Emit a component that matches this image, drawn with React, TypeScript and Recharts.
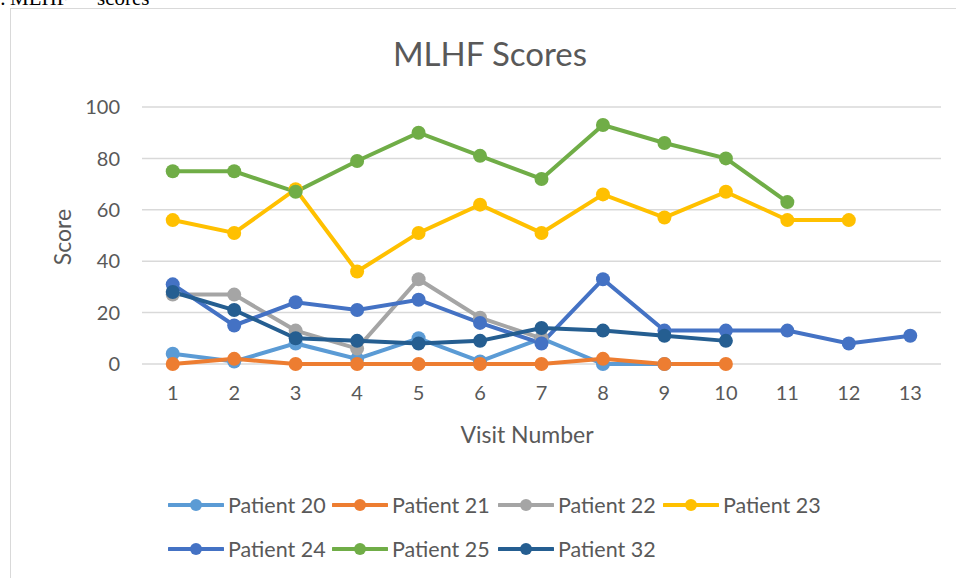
import { CartesianGrid, Line, LineChart, XAxis, YAxis } from "recharts";

const visitTicks = [1, 2, 3, 4, 5, 6, 7, 8, 9, 10, 11, 12, 13];
const scoreTicks = [0, 20, 40, 60, 80, 100];

const patient20 = [4, 1, 8, 2, 10, 1, 10, 0, 0];
const patient21 = [0, 2, 0, 0, 0, 0, 0, 2, 0, 0];
const patient22 = [27, 27, 13, 6, 33, 18, 10];
const patient23 = [56, 51, 68, 36, 51, 62, 51, 66, 57, 67, 56, 56];
const patient24 = [31, 15, 24, 21, 25, 16, 8, 33, 13, 13, 13, 8, 11];
const patient25 = [75, 75, 67, 79, 90, 81, 72, 93, 86, 80, 63];
const patient32 = [28, 21, 10, 9, 8, 9, 14, 13, 11, 9];

const SERIES = [
  { name: "Patient 20", scores: patient20, color: "#5b9bd5" },
  { name: "Patient 21", scores: patient21, color: "#ed7d31" },
  { name: "Patient 22", scores: patient22, color: "#a5a5a5" },
  { name: "Patient 23", scores: patient23, color: "#ffc000" },
  { name: "Patient 24", scores: patient24, color: "#4472c4" },
  { name: "Patient 25", scores: patient25, color: "#70ad47" },
  { name: "Patient 32", scores: patient32, color: "#255e91" },
];

const TEXT = "#595959";
const FONT = "Lato, 'Open Sans', sans-serif";

// legend rows: x of each symbol start, y of row centre
const LEGEND_POS = [
  [168, 505],
  [332, 505],
  [498, 505],
  [663, 505],
  [168, 549],
  [332, 549],
  [498, 549],
];

function LegendItem({ name, color, x, y }: { name: string; color: string; x: number; y: number }) {
  return (
    <div style={{ position: "absolute", left: x, top: y - 13, height: 26, display: "flex", alignItems: "center" }}>
      <svg width={56} height={14} style={{ display: "block" }}>
        <line x1={1} y1={7} x2={55} y2={7} stroke={color} strokeWidth={4} strokeLinecap="round" />
        <circle cx={28} cy={7} r={6} fill={color} />
      </svg>
      <span style={{ marginLeft: 4, fontSize: 21.5, color: TEXT, fontFamily: FONT, whiteSpace: "nowrap" }}>{name}</span>
    </div>
  );
}

export default function App() {
  return (
    <div style={{ position: "absolute", left: 0, top: 0, width: 956, height: 578, overflow: "hidden", background: "#fff" }}>
      <div
        style={{
          position: "absolute",
          left: 0,
          top: -12,
          fontFamily: "'Liberation Serif', 'Times New Roman', serif",
          fontSize: 21,
          lineHeight: "21px",
          color: "#000",
          whiteSpace: "nowrap",
        }}
      >
        <span>:</span>
        <span style={{ position: "absolute", left: 10 }}>MLHF</span>
        <span style={{ position: "absolute", left: 97 }}>scores</span>
      </div>
      <div
        style={{
          position: "absolute",
          left: 10,
          top: 8,
          width: 980,
          height: 600,
          border: "1.5px solid #d9d9d9",
          boxSizing: "border-box",
        }}
      />
      <div
        style={{
          position: "absolute",
          left: 490,
          top: 53,
          transform: "translate(-50%, -50%)",
          fontFamily: FONT,
          fontSize: 33,
          color: TEXT,
          whiteSpace: "nowrap",
        }}
      >
        MLHF Scores
      </div>
      <div
        style={{
          position: "absolute",
          left: 62,
          top: 237,
          transform: "translate(-50%, -50%) rotate(-90deg)",
          fontFamily: FONT,
          fontSize: 23,
          color: TEXT,
          whiteSpace: "nowrap",
        }}
      >
        Score
      </div>
      <div
        style={{
          position: "absolute",
          left: 527,
          top: 434,
          transform: "translate(-50%, -50%)",
          fontFamily: FONT,
          fontSize: 23,
          color: TEXT,
          whiteSpace: "nowrap",
        }}
      >
        Visit Number
      </div>
      <div style={{ position: "absolute", left: 0, top: 0 }}>
        <LineChart width={956} height={578} margin={{ top: 107, right: 15, bottom: 184, left: 82 }}>
          <CartesianGrid horizontal vertical={false} stroke="#d9d9d9" strokeWidth={1.5} />
          <XAxis
            type="number"
            dataKey="visit"
            domain={[0.5, 13.5]}
            ticks={visitTicks}
            allowDuplicatedCategory={false}
            axisLine={false}
            tickLine={false}
            tickSize={0}
            tickMargin={22}
            height={30}
            tick={{ fill: TEXT, fontSize: 20, fontFamily: FONT }}
          />
          <YAxis
            type="number"
            domain={[0, 100]}
            ticks={scoreTicks}
            axisLine={false}
            tickLine={false}
            tickSize={0}
            tickMargin={22}
            width={60}
            tick={{ fill: TEXT, fontSize: 20, fontFamily: FONT }}
          />
          {SERIES.map((s) => (
            <Line
              key={s.name}
              name={s.name}
              data={s.scores.map((score, i) => ({ visit: i + 1, score }))}
              dataKey="score"
              type="linear"
              stroke={s.color}
              strokeWidth={4}
              dot={{ r: 7, fill: s.color, stroke: "none" }}
              activeDot={false}
              isAnimationActive={false}
            />
          ))}
        </LineChart>
      </div>
      {SERIES.map((s, i) => (
        <LegendItem key={s.name} name={s.name} color={s.color} x={LEGEND_POS[i][0]} y={LEGEND_POS[i][1]} />
      ))}
    </div>
  );
}
